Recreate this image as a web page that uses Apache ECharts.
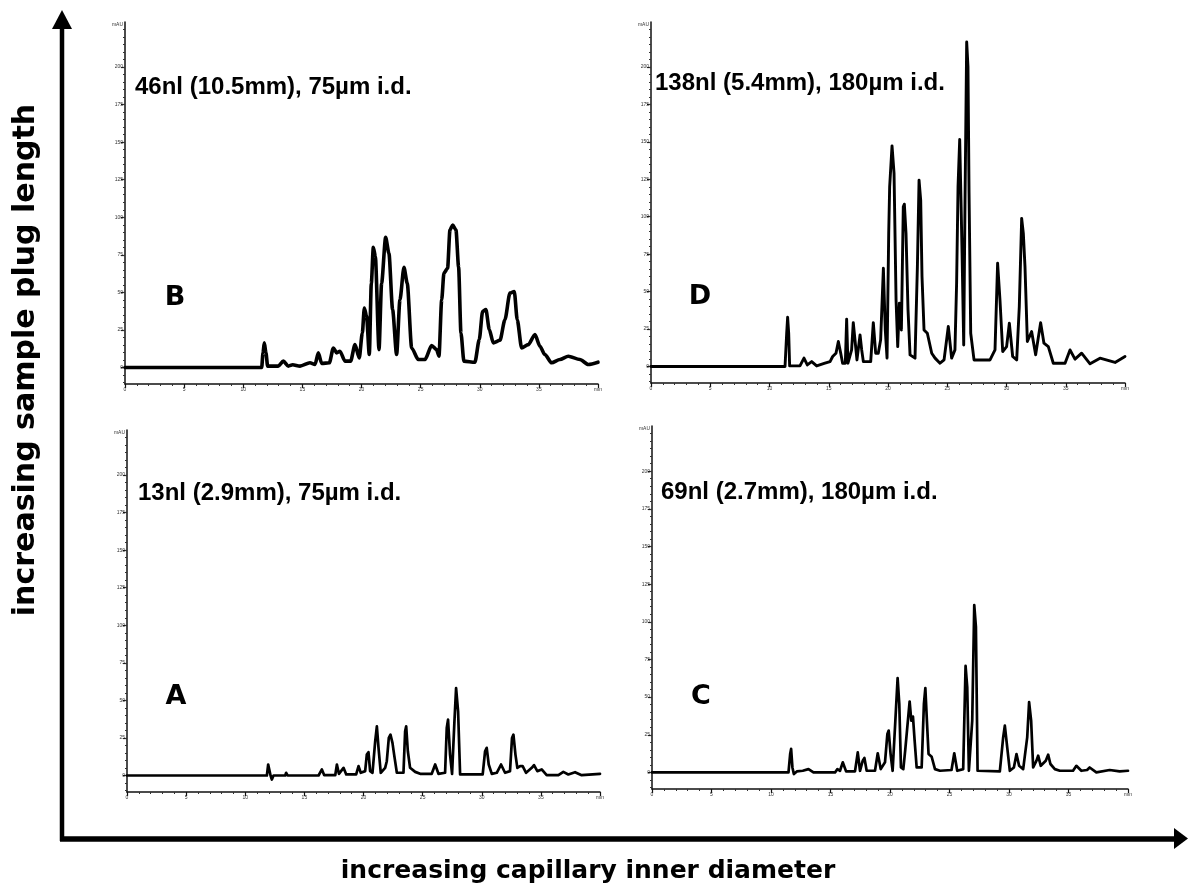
<!DOCTYPE html>
<html>
<head>
<meta charset="utf-8">
<script src="https://cdn.jsdelivr.net/npm/echarts@6/dist/echarts.min.js"></script>
<style>
  html, body { margin: 0; padding: 0; background: #fff; }
  #chart { width: 1188px; height: 888px; }
</style>
</head>
<body>
<div id="chart"></div>
<script>
// Electropherograms: [time (min), absorbance (mAU)] pairs per run.
const traceA = [
  [0,0],[11.83,0],[11.94,7.3],[12.03,8.4],[12.14,0],[12.25,-2.7],[12.39,0],[13.38,0],[13.46,1.8],[13.58,0],
  [16.2,0],[16.48,4.0],[16.68,0.2],[17.61,0.2],[17.75,7.3],[17.92,1.1],[18.31,5.1],[18.54,0.7],[19.38,0.7],
  [19.58,6.2],[19.77,1.8],[20.14,2.9],[20.28,13.9],[20.42,15.5],[20.56,2.9],[20.76,1.8],[20.99,22.8],[21.13,32.7],
  [21.27,18.4],[21.46,1.8],[21.83,5.1],[21.97,9.5],[22.14,25],[22.28,27.2],[22.45,21.7],[22.59,13.9],[22.82,1.8],
  [23.38,1.8],[23.52,29.4],[23.61,32.7],[23.75,16.1],[23.94,5.1],[24.37,2.4],[24.79,1.1],[25.77,1.1],[26.06,7.3],
  [26.34,1.1],[26.9,1.8],[27.04,31.6],[27.15,37.2],[27.32,13.9],[27.49,1.1],[27.69,36],[27.83,58.2],[28.0,42.7],
  [28.17,0.7],[30.08,0.7],[30.28,16.1],[30.42,18.4],[30.59,7.3],[30.85,1.1],[31.27,1.8],[31.63,7.3],[31.97,1.8],
  [32.39,2.9],[32.56,25],[32.68,27.2],[32.85,13.9],[33.01,5.1],[33.24,6.2],[33.46,6.2],[33.75,1.8],[34.23,5.1],
  [34.42,6.9],[34.7,2.9],[35.07,4.0],[35.49,0.2],[36.48,0.2],[36.9,2.4],[37.32,0.7],[37.89,2.2],[38.45,0.2],[40,1.1]
];
const traceB = [
  [0,0],[11.56,0],[11.67,9.7],[11.78,16.4],[11.92,9.7],[12.06,0.9],[12.96,0.9],[13.39,4.2],[13.81,0.9],[14.18,1.8],
  [14.8,0.9],[15.64,3.1],[16.07,2.0],[16.35,9.7],[16.63,2.7],[17.28,3.1],[17.62,13.0],[17.9,9.7],[18.18,10.8],
  [18.6,4.2],[19.08,4.2],[19.45,15.2],[19.81,6.4],[20.07,23],[20.24,39.6],[20.43,34],[20.66,8.6],[20.83,56],
  [21.0,80],[21.17,74],[21.48,11.9],[21.7,56],[22.04,86.6],[22.32,76],[22.63,38.5],[22.97,8.6],[23.25,45],
  [23.59,66.7],[23.87,56],[24.24,13],[24.8,5.3],[25.37,5.3],[25.93,14.6],[26.35,11.9],[26.55,7.5],[26.78,45],
  [26.97,62.8],[27.28,66],[27.48,91.5],[27.71,94.8],[27.99,91.5],[28.21,67],[28.41,23],[28.66,4.2],[29.59,3.5],
  [29.96,18.6],[30.24,37.3],[30.52,38.5],[30.81,25.2],[31.14,16.4],[31.71,18.1],[32.13,31.8],[32.55,49.5],
  [32.92,50.6],[33.17,31.8],[33.54,13],[34.1,15.2],[34.67,21.9],[35.09,14.1],[35.51,8.6],[36.08,3.1],[36.78,5.3],
  [37.49,7.5],[38.47,5.3],[39.18,2.0],[40,3.5]
];
const traceC = [
  [0,0],[11.47,0],[11.61,12.2],[11.69,15.6],[11.8,3.3],[11.92,-1.1],[12.17,0.7],[12.67,1.1],[13.15,2.2],[13.57,0],
  [15.38,0],[15.58,2.2],[15.8,1.1],[16.03,6.7],[16.31,0.7],[17.06,0.7],[17.29,13.3],[17.48,1.1],[17.71,7.8],
  [17.85,9.6],[18.04,1.1],[18.74,1.1],[18.97,12.7],[19.22,2.2],[19.58,6.7],[19.78,25.6],[19.89,27.8],[20.05,12.2],
  [20.22,1.1],[20.45,34.4],[20.64,62.7],[20.78,45.6],[20.92,3.3],[21.12,2.2],[21.29,15.6],[21.45,16.7],[21.65,47.1],
  [21.79,34.4],[21.93,37.1],[22.07,21.1],[22.24,3.3],[22.66,3.3],[22.85,45.6],[22.97,56],[23.1,34.4],[23.24,12.2],
  [23.5,10.4],[23.78,2.2],[24.2,1.1],[25.17,1.6],[25.4,12.7],[25.65,1.1],[26.15,2.2],[26.35,70.7],[26.49,56.7],
  [26.63,1.1],[26.91,34.4],[27.08,111.1],[27.22,96.7],[27.36,1.1],[29.23,0.7],[29.51,23.3],[29.65,31.1],[29.85,16.7],
  [30.07,1.1],[30.41,3.3],[30.63,12.2],[30.85,4.4],[31.19,2.2],[31.53,23.3],[31.69,46.7],[31.86,34.4],[32.03,3.3],
  [32.31,7.8],[32.45,11.1],[32.67,4.4],[33.09,7.8],[33.29,11.8],[33.48,5.6],[33.85,2.2],[34.27,1.1],[35.38,1.1],
  [35.66,4.4],[36.08,1.1],[36.56,1.6],[36.78,3.3],[37.34,0],[38.46,1.6],[39.3,0.7],[40,1.1]
];
const traceD = [
  [0,0],[1.74,0],[1.88,0.9],[2.03,0],[11.31,0],[11.45,22.2],[11.53,32.9],[11.62,22.2],[11.7,0.4],[12.57,0.4],
  [12.91,5.6],[13.19,1.1],[13.56,3.3],[13.98,0.4],[14.68,2.2],[15.11,3.3],[15.33,6.7],[15.61,8.9],[15.81,16.7],
  [16.01,8.9],[16.17,2.2],[16.4,2.2],[16.51,31.6],[16.62,2.2],[16.93,11.1],[17.07,29.3],[17.24,15.6],[17.38,4.4],
  [17.52,13.3],[17.64,21.1],[17.78,11.1],[17.92,3.3],[18.54,3.3],[18.76,29.3],[18.96,8.9],[19.18,8.9],[19.38,17.8],
  [19.61,65.6],[19.77,24.4],[19.92,5.6],[20.06,88.9],[20.14,120],[20.34,147.3],[20.51,128.9],[20.68,44.4],
  [20.82,13.3],[20.96,42.2],[21.13,24.4],[21.29,106.7],[21.38,108.4],[21.52,88.9],[21.69,37.8],[21.86,7.8],
  [22.28,5.6],[22.48,66.7],[22.62,124.4],[22.76,111],[22.87,60],[23.04,24.4],[23.32,22.2],[23.69,8.9],[23.97,5.6],
  [24.39,2.2],[24.73,4.4],[25.09,26.7],[25.37,5.6],[25.65,11.1],[25.79,55.6],[25.91,120],[26.05,151.6],[26.16,111],
  [26.25,75.6],[26.39,14.4],[26.5,111],[26.64,216.7],[26.75,200],[26.84,115.6],[26.98,22.2],[27.26,4.4],[28.61,4.4],
  [29.03,11.1],[29.25,68.9],[29.45,44.4],[29.68,10],[30.01,13.3],[30.24,28.9],[30.52,6.7],[30.86,4.4],[31.08,40],
  [31.28,98.9],[31.42,88.9],[31.56,66.7],[31.76,16.7],[32.12,23.3],[32.46,7.8],[32.88,29.3],[33.16,15.6],
  [33.53,13.3],[33.95,2.2],[34.94,2.2],[35.36,11.1],[35.78,4.9],[36.34,8.9],[37.05,1.8],[37.89,5.6],[39.16,2.7],[40,6.7]
];

const panelLetters = ['B', 'D', 'A', 'C'];
const panelNotes = [
  '46nl (10.5mm), 75\u00b5m i.d.',
  '138nl (5.4mm), 180\u00b5m i.d.',
  '13nl (2.9mm), 75\u00b5m i.d.',
  '69nl (2.7mm), 180\u00b5m i.d.'
];
const yTickValues = [0, 25, 50, 75, 100, 125, 150, 175, 200];
const yUnitValue = 228;            // where the "mAU" unit label sits
const yMinorValues = [];
for (let v = -10; v <= 225; v += 5) yMinorValues.push(v);
const timeMax = 40, timeStep = 5;

const traces = [traceB, traceD, traceA, traceC];

// Panel frames (pixels) in the same order as traces
const frames = [
  { left: 125, top: 22,  width: 473, height: 362, widthLine: 3.6, smooth: 0.25 },
  { left: 651, top: 22,  width: 474, height: 361, widthLine: 2.9, smooth: false },
  { left: 127, top: 430, width: 473, height: 362, widthLine: 2.7, smooth: false },
  { left: 652, top: 426, width: 476, height: 363, widthLine: 2.7, smooth: false }
];
const noteAt = [[135, 87], [655, 83], [138, 493], [661, 492]];
const letterAt = [[175, 298], [700, 297], [176, 697], [701, 697]];

const tickFont = { fontSize: 5, color: '#333', fontFamily: 'Liberation Sans' };

const grid = [], xAxis = [], yAxis = [], series = [];
frames.forEach((f, i) => {
  grid.push({ left: f.left, top: f.top, width: f.width, height: f.height, containLabel: false });
  xAxis.push({
    type: 'value', gridIndex: i, min: 0, max: timeMax, interval: timeStep,
    axisLine: { show: true, onZero: false, lineStyle: { color: '#111', width: 1.5 } },
    axisTick: { show: true, length: 4, lineStyle: { color: '#111', width: 1.2 } },
    minorTick: { show: true, splitNumber: 5, length: 2, lineStyle: { color: '#333', width: 1 } },
    splitLine: { show: false },
    axisLabel: Object.assign({ margin: 3, formatter: v => (v === timeMax ? 'min' : String(v)) }, tickFont)
  });
  yAxis.push({
    type: 'value', gridIndex: i, min: -11, max: 230, position: 'left',
    axisLine: { show: true, lineStyle: { color: '#111', width: 1.5 } },
    axisTick: { show: true, length: 4, customValues: yTickValues, lineStyle: { color: '#111', width: 1.2 } },
    splitLine: { show: false },
    axisLabel: Object.assign({
      margin: 2,
      customValues: yTickValues.concat([yUnitValue]),
      formatter: v => (v === yUnitValue ? 'mAU' : String(v))
    }, tickFont)
  });
  yAxis.push({
    type: 'value', gridIndex: i, min: -11, max: 230, position: 'left', offset: 0,
    axisLine: { show: false },
    axisTick: { show: true, length: 2, customValues: yMinorValues, lineStyle: { color: '#333', width: 1 } },
    splitLine: { show: false },
    axisLabel: { show: false }
  });
  series.push({
    type: 'line', xAxisIndex: i, yAxisIndex: i * 2, data: traces[i],
    showSymbol: false, symbol: 'none', clip: true, animation: false,
    smooth: f.smooth, smoothMonotone: 'x',
    lineStyle: { color: '#000', width: f.widthLine, join: 'round', cap: 'round' }
  });
});

const graphic = [];
// Axis-of-the-figure arrows
graphic.push({ type: 'line', shape: { x1: 62, y1: 841, x2: 62, y2: 26 }, style: { stroke: '#000', lineWidth: 4.5 } });
graphic.push({ type: 'polygon', shape: { points: [[62, 10], [52, 29], [72, 29]] }, style: { fill: '#000' } });
graphic.push({ type: 'line', shape: { x1: 60, y1: 839, x2: 1175, y2: 839 }, style: { stroke: '#000', lineWidth: 5.5 } });
graphic.push({ type: 'polygon', shape: { points: [[1188, 838.5], [1174, 828], [1174, 849]] }, style: { fill: '#000' } });

graphic.push({
  type: 'text', x: 588, y: 871,
  style: { text: 'increasing capillary inner diameter', font: 'bold 25px "DejaVu Sans"', fill: '#000', textAlign: 'center', textVerticalAlign: 'middle' }
});
graphic.push({
  type: 'text', x: 26, y: 360, rotation: Math.PI / 2,
  style: { text: 'increasing sample plug length', font: 'bold 30px "DejaVu Sans"', fill: '#000', textAlign: 'center', textVerticalAlign: 'middle' }
});

panelNotes.forEach((t, i) => {
  graphic.push({
    type: 'text', x: noteAt[i][0], y: noteAt[i][1],
    style: { text: t, font: 'bold 24px "Liberation Sans"', fill: '#000', textAlign: 'left', textVerticalAlign: 'middle' }
  });
  graphic.push({
    type: 'text', x: letterAt[i][0], y: letterAt[i][1],
    style: { text: panelLetters[i], font: 'bold 27px "DejaVu Sans"', fill: '#000', textAlign: 'center', textVerticalAlign: 'middle' }
  });
});

const chart = echarts.init(document.getElementById('chart'), null, { renderer: 'canvas' });
chart.setOption({
  backgroundColor: '#fff',
  animation: false,
  grid, xAxis, yAxis, series, graphic
});
</script>
</body>
</html>
